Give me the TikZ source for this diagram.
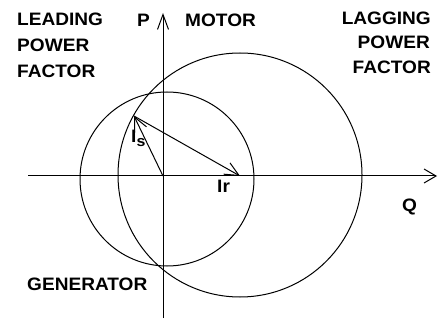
\documentclass[tikz,border=0pt]{standalone}
\usepackage{fontspec}
\setmainfont{Liberation Sans}[FakeStretch=1.06]
\usetikzlibrary{arrows.meta}
\tikzset{
  lab/.style={font=\fontsize{18}{18}\selectfont\bfseries, inner sep=0pt},
  ln/.style={line width=1pt, black},
  axisP/.style={ln, -{Straight Barb[length=15pt,width=11pt,line width=1pt]}},
  axisQ/.style={ln, -{Straight Barb[length=12pt,width=14pt,line width=1pt]}},
  vec/.style={ln, -{Straight Barb[length=14pt,width=13pt,line width=1pt]}},
}
\begin{document}
\begin{tikzpicture}[x=1pt,y=-1pt]
\useasboundingbox (0,0) rectangle (438,320);
% coordinates
\coordinate (O) at (163,176);
\coordinate (Qs) at (28,176);
\coordinate (Qe) at (437,176);
\coordinate (Ps) at (163,318);
\coordinate (Pe) at (163,13);
\coordinate (Is) at (134,116);
\coordinate (Ir) at (240,176);
\coordinate (Cs) at (167,179);
\coordinate (Cb) at (240,175);
% axes
\draw[axisQ] (Qs) -- (Qe);
\draw[axisP] (Ps) -- (Pe);
% circles
\draw[ln] (Cs) circle[radius=87];
\draw[ln] (Cb) circle[radius=122];
% vectors
\draw[vec] (O) -- (Is);
\draw[vec] (Is) -- (Ir);
% labels
\node[lab, anchor=base west] (l1) at (17,26) {LEADING};
\node[lab, anchor=base west] (l2) at (17,52) {POWER};
\node[lab, anchor=base west] (l3) at (17,78) {FACTOR};
\node[lab, anchor=base west] (p) at (137,27) {P};
\node[lab, anchor=base west] (m) at (185,27) {MOTOR};
\node[lab, anchor=base east] (g1) at (431,25) {LAGGING};
\node[lab, anchor=base east] (g2) at (430,49) {POWER};
\node[lab, anchor=base east] (g3) at (431,74) {FACTOR};
\node[lab, anchor=base west] (gen) at (27,290) {GENERATOR};
\node[lab, anchor=base west] (q) at (402,211) {Q};
\node[lab, anchor=base west] (ir) at (217,193) {Ir};
\node[lab, anchor=base west] (is) at (131,143) {I\raisebox{-4pt}{\fontsize{15}{15}\selectfont s}};
\end{tikzpicture}
\end{document}
